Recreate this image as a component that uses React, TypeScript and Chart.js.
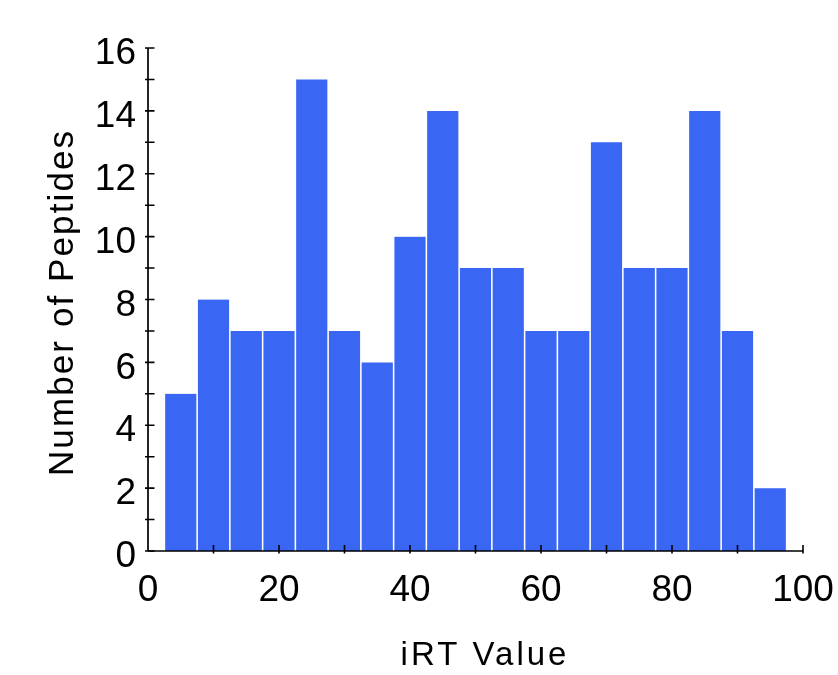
import React, { useEffect, useRef } from "react";
import { Chart, registerables } from "chart.js";

Chart.register(...registerables);

// ---- data ----
const binCenters = [5, 10, 15, 20, 25, 30, 35, 40, 45, 50, 55, 60, 65, 70, 75, 80, 85, 90, 95];
const counts = [5, 8, 7, 7, 15, 7, 6, 10, 14, 9, 9, 7, 7, 13, 9, 9, 14, 7, 2];
const xTickLabels = [0, 20, 40, 60, 80, 100];
const yTickLabels = [0, 2, 4, 6, 8, 10, 12, 14, 16];
const xAxisTitle = "iRT Value";
const yAxisTitle = "Number of Peptides";

const FONT = '"Liberation Sans", Arial, sans-serif';

const axisPlugin = {
  id: "axisDecor",
  afterDatasetsDraw(chart: any) {
    const ctx = chart.ctx;
    const xs = chart.scales.x;
    const ys = chart.scales.y;
    const { left, right, top, bottom } = chart.chartArea;
    ctx.save();
    ctx.strokeStyle = "#000";
    ctx.lineWidth = 1.7;
    ctx.lineCap = "butt";
    ctx.beginPath();
    ctx.moveTo(left, top);
    ctx.lineTo(left, bottom);
    ctx.moveTo(left, bottom);
    ctx.lineTo(right, bottom);
    ctx.stroke();
    ctx.lineWidth = 1.6;
    ctx.beginPath();
    for (const t of ys.ticks) {
      const py = ys.getPixelForValue(t.value);
      ctx.moveTo(left - 3, py);
      ctx.lineTo(left + 6.5, py);
    }
    for (const t of xs.ticks) {
      if (t.value === 0) continue;
      const px = xs.getPixelForValue(t.value);
      ctx.moveTo(px, bottom + 2.5);
      ctx.lineTo(px, bottom - 6);
    }
    ctx.stroke();
    ctx.restore();
  },
  afterDraw(chart: any) {
    const ctx = chart.ctx;
    const { left, right, top, bottom } = chart.chartArea;
    ctx.save();
    ctx.fillStyle = "#000";
    ctx.textAlign = "left";
    ctx.textBaseline = "alphabetic";
    // x title
    const xs = 3;
    ctx.font = `33px ${FONT}`;
    (ctx as any).letterSpacing = `${xs}px`;
    let w = ctx.measureText(xAxisTitle).width - xs;
    const cx = (left + right) / 2 + 8;
    ctx.fillText(xAxisTitle, cx - w / 2, 665);
    // y title
    const ysp = 2.1;
    ctx.font = `35px ${FONT}`;
    (ctx as any).letterSpacing = `${ysp}px`;
    w = ctx.measureText(yAxisTitle).width - ysp;
    const cy = (top + bottom) / 2 + 4;
    ctx.translate(73, cy);
    ctx.rotate(-Math.PI / 2);
    ctx.fillText(yAxisTitle, -w / 2, 0);
    ctx.restore();
  },
};

export default function App() {
  const canvasRef = useRef<HTMLCanvasElement | null>(null);

  useEffect(() => {
    document.body.style.margin = "0";
    const canvas = canvasRef.current;
    if (!canvas) return;
    const chart = new Chart(canvas, {
      type: "bar",
      data: {
        datasets: [
          {
            data: binCenters.map((x, i) => ({ x, y: counts[i] })),
            backgroundColor: "#3966f3",
            borderColor: "#ffffff",
            borderWidth: { left: 1.1, right: 1.1, top: 0, bottom: 0 },
            borderSkipped: false,
            barPercentage: 1,
            categoryPercentage: 1,
          },
        ],
      },
      options: {
        animation: false,
        responsive: false,
        devicePixelRatio: 1,
        layout: { padding: { left: 0, top: 48, right: 35, bottom: 0 } },
        plugins: {
          legend: { display: false },
          tooltip: { enabled: false },
          title: { display: false },
        },
        scales: {
          x: {
            type: "linear",
            min: 0,
            max: 100,
            offset: false,
            grid: { display: false, drawTicks: false },
            border: { display: false },
            ticks: {
              stepSize: 10,
              autoSkip: false,
              maxRotation: 0,
              padding: 18,
              color: "#000",
              font: { family: FONT, size: 37 },
              callback: (v: any) => (xTickLabels.includes(Number(v)) ? String(v) : ""),
            },
            afterFit: (s: any) => {
              s.height = 124;
              s.paddingLeft = 0;
              s.paddingRight = 0;
            },
          },
          y: {
            type: "linear",
            min: 0,
            max: 16,
            grid: { display: false, drawTicks: false },
            border: { display: false },
            ticks: {
              stepSize: 1,
              autoSkip: false,
              padding: 12,
              labelOffset: 6,
              color: "#000",
              font: { family: FONT, size: 37 },
              callback: (v: any) => (yTickLabels.includes(Number(v)) ? String(v) : ""),
            },
            afterFit: (s: any) => {
              s.width = 148;
              s.paddingTop = 0;
              s.paddingBottom = 0;
            },
          },
        },
      },
      plugins: [axisPlugin],
    } as any);
    return () => chart.destroy();
  }, []);

  return (
    <div style={{ width: 838, height: 675 }}>
      <canvas ref={canvasRef} width={838} height={675} style={{ display: "block" }} />
    </div>
  );
}
